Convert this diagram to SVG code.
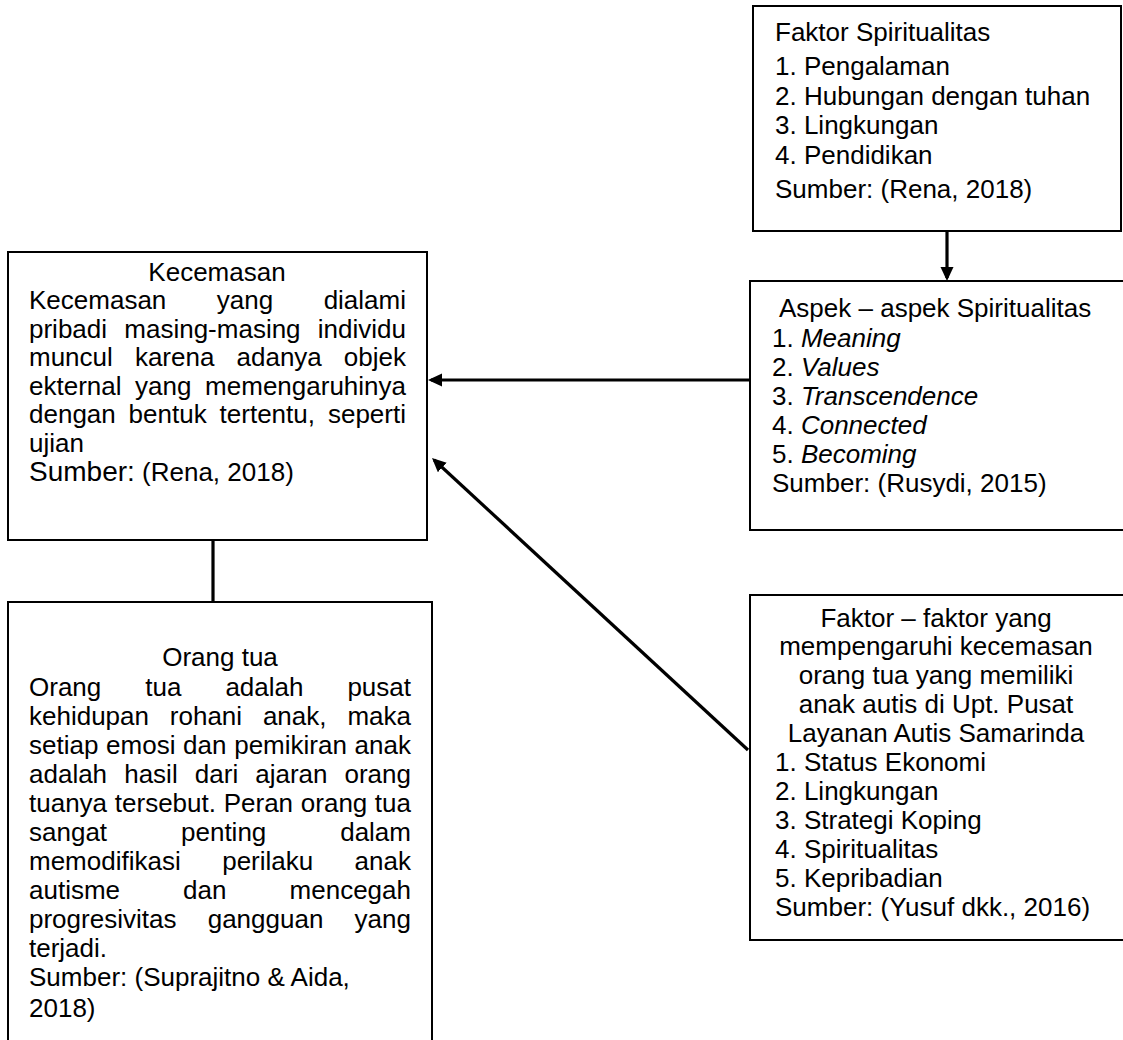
<svg xmlns="http://www.w3.org/2000/svg" width="1123" height="1040" viewBox="0 0 1123 1040">
<style>
text{font-family:"Liberation Sans",Arial,Helvetica,sans-serif;font-size:26px;fill:#000}
.e{text-anchor:end}
.m{text-anchor:middle}
.i{font-style:italic}
.box{fill:#fff;stroke:#000;stroke-width:2}
.con{fill:none;stroke:#000;stroke-width:3.2}
</style>
<defs>
<marker id="ah" markerUnits="userSpaceOnUse" markerWidth="16" markerHeight="14" refX="11" refY="6.5" orient="auto">
<path d="M0,0 L14,6.5 L0,13 z" fill="#000"/>
</marker>
</defs>
<rect width="1123" height="1040" fill="#fff"/>

<g id="connectors">
<line class="con" x1="947" y1="231" x2="947" y2="278" marker-end="url(#ah)"/>
<line class="con" x1="750" y1="380" x2="431" y2="380" marker-end="url(#ah)"/>
<line class="con" x1="748" y1="750" x2="434.2" y2="460" marker-end="url(#ah)"/>
<line class="con" x1="213" y1="540" x2="213" y2="602"/>
</g>

<g id="faktor-spiritualitas">
<rect class="box" x="753" y="6" width="368" height="225"/>
<text x="775" y="41">Faktor Spiritualitas</text>
<text x="775" y="75">1. Pengalaman</text>
<text x="775" y="105">2. Hubungan dengan tuhan</text>
<text x="775" y="134">3. Lingkungan</text>
<text x="775" y="164">4. Pendidikan</text>
<text x="775" y="198">Sumber: (Rena, 2018)</text>
</g>

<g id="aspek-spiritualitas">
<rect class="box" x="750" y="281" width="380" height="249"/>
<text x="779" y="317">Aspek – aspek Spiritualitas</text>
<text x="772" y="347">1. <tspan class="i">Meaning</tspan></text>
<text x="772" y="376">2. <tspan class="i">Values</tspan></text>
<text x="772" y="405">3. <tspan class="i">Transcendence</tspan></text>
<text x="772" y="434">4. <tspan class="i">Connected</tspan></text>
<text x="772" y="463">5. <tspan class="i">Becoming</tspan></text>
<text x="772" y="492">Sumber: (Rusydi, 2015)</text>
</g>

<g id="faktor-kecemasan">
<rect class="box" x="750" y="595" width="380" height="345"/>
<text class="m" x="936" y="627">Faktor – faktor yang</text>
<text class="m" x="936" y="655">mempengaruhi kecemasan</text>
<text class="m" x="936" y="684">orang tua yang memiliki</text>
<text class="m" x="936" y="713">anak autis di Upt. Pusat</text>
<text class="m" x="936" y="742">Layanan Autis Samarinda</text>
<text x="775" y="771">1. Status Ekonomi</text>
<text x="775" y="800">2. Lingkungan</text>
<text x="775" y="829">3. Strategi Koping</text>
<text x="775" y="858">4. Spiritualitas</text>
<text x="775" y="887">5. Kepribadian</text>
<text x="775" y="916">Sumber: (Yusuf dkk., 2016)</text>
</g>

<g id="kecemasan">
<rect class="box" x="8" y="252" width="419" height="288"/>
<text class="m" x="217" y="281">Kecemasan</text>
<text y="309"><tspan x="29">Kecemasan</tspan><tspan x="216.8">yang</tspan></text><text class="e" x="406" y="309">dialami</text>
<text y="338"><tspan x="29">pribadi</tspan><tspan x="124.3">masing-masing</tspan></text><text class="e" x="406" y="338">individu</text>
<text y="366"><tspan x="29">muncul</tspan><tspan x="134.9">karena</tspan><tspan x="236.5">adanya</tspan></text><text class="e" x="406" y="366">objek</text>
<text y="395"><tspan x="29">ekternal</tspan><tspan x="135.1">yang</tspan></text><text class="e" x="406" y="395">memengaruhinya</text>
<text y="423"><tspan x="29">dengan</tspan><tspan x="128.6">bentuk</tspan><tspan x="219.6">tertentu,</tspan></text><text class="e" x="406" y="423">seperti</text>
<text x="29" y="452">ujian</text>
<text x="29" y="481"><tspan style="font-size:28px">Sumber:</tspan> (Rena, 2018)</text>
</g>

<g id="orang-tua">
<rect class="box" x="8" y="602" width="424" height="450"/>
<text class="m" x="220" y="666">Orang tua</text>
<text y="696"><tspan x="29">Orang</tspan><tspan x="145.3">tua</tspan><tspan x="225.4">adalah</tspan></text><text class="e" x="411" y="696">pusat</text>
<text y="725"><tspan x="29">kehidupan</tspan><tspan x="169.8">rohani</tspan><tspan x="262.9">anak,</tspan></text><text class="e" x="411" y="725">maka</text>
<text y="754"><tspan x="29">setiap</tspan><tspan x="106.1">emosi</tspan><tspan x="183.1">dan</tspan><tspan x="234.2">pemikiran</tspan></text><text class="e" x="411" y="754">anak</text>
<text y="783"><tspan x="29">adalah</tspan><tspan x="124.2">hasil</tspan><tspan x="194.8">dari</tspan><tspan x="255.2">ajaran</tspan></text><text class="e" x="411" y="783">orang</text>
<text y="812"><tspan x="29">tuanya</tspan><tspan x="114.8">tersebut.</tspan><tspan x="223.7">Peran</tspan><tspan x="300.8">orang</tspan></text><text class="e" x="411" y="812">tua</text>
<text y="841"><tspan x="29">sangat</tspan><tspan x="181">penting</tspan></text><text class="e" x="411" y="841">dalam</text>
<text y="870"><tspan x="29">memodifikasi</tspan><tspan x="222.2">perilaku</tspan></text><text class="e" x="411" y="870">anak</text>
<text y="899"><tspan x="29">autisme</tspan><tspan x="183.1">dan</tspan></text><text class="e" x="411" y="899">mencegah</text>
<text y="928"><tspan x="29">progresivitas</tspan><tspan x="207.7">gangguan</tspan></text><text class="e" x="411" y="928">yang</text>
<text x="29" y="957">terjadi.</text>
<text x="29" y="986">Sumber: (Suprajitno &amp; Aida,</text>
<text x="29" y="1017">2018)</text>
</g>
</svg>
